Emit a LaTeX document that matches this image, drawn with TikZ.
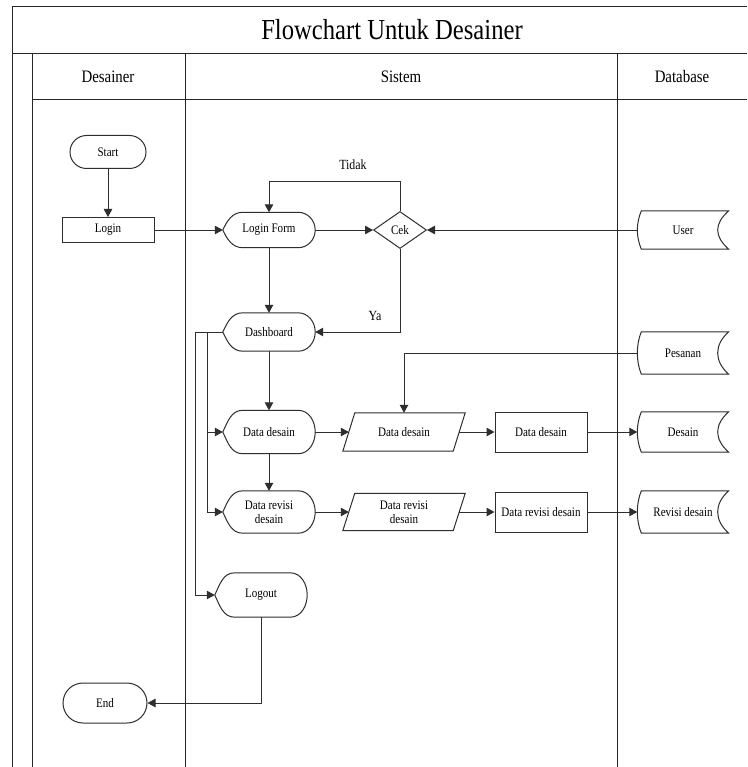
\documentclass[tikz,border=0pt]{standalone}
\usepackage{fontspec}
\setmainfont[FakeStretch=0.85]{Liberation Serif}
\usetikzlibrary{arrows.meta,shapes.misc,shapes.geometric}
\definecolor{lc}{HTML}{2E2E2E}
\newcommand\nodefont{\fontsize{13}{14}\selectfont}
% outline of a "display" symbol: pointed left end, flat top/bottom, round right end
\newcommand\dispshape[1]{\draw[ln] (#1.west) to[out=65,in=180] ([xshift=20pt]#1.north west)
  -- ([xshift=-17pt]#1.north east) to[out=0,in=90] (#1.east) to[out=-90,in=0] ([xshift=-17pt]#1.south east)
  -- ([xshift=20pt]#1.south west) to[out=180,in=-65] (#1.west);}
% outline of an input/output parallelogram
\newcommand\ioshape[1]{\draw[ln] ([xshift=12pt]#1.north west) -- (#1.north east)
  -- ([xshift=-12pt]#1.south east) -- (#1.south west) -- cycle;}
% outline of a "stored data" symbol
\newcommand\storeshape[1]{\draw[ln] ([xshift=4pt]#1.north west) -- (#1.north east)
  .. controls ([xshift=-14.7pt,yshift=-13pt]#1.north east) and ([xshift=-14.7pt,yshift=13pt]#1.south east) .. (#1.south east)
  -- ([xshift=4pt]#1.south west)
  .. controls ([xshift=-1.3pt,yshift=13pt]#1.south west) and ([xshift=-1.3pt,yshift=-13pt]#1.north west) .. ([xshift=4pt]#1.north west) -- cycle;}
\tikzset{
  ln/.style={draw=lc, line width=1pt},
  arr/.style={ln, -{Triangle[length=8pt,width=8.5pt]}},
  txt/.style={font=\nodefont, text=black, inner sep=0pt, align=center},
  term/.style={txt, rounded rectangle, draw=lc, line width=1pt},
  proc/.style={txt, rectangle, draw=lc, line width=1pt, minimum width=92pt},
  dispbox/.style={txt, rectangle, minimum width=92pt},
  iobox/.style={txt, rectangle, minimum width=122pt},
  storebox/.style={txt, rectangle, minimum width=91pt},
  lane/.style={draw=black!85, line width=1pt},
  head/.style={font=\fontsize{17.5}{19}\selectfont, text=black},
  lbl/.style={font=\fontsize{14}{16}\selectfont, text=black}
}
\begin{document}
\begin{tikzpicture}[x=1pt,y=-1pt]
\useasboundingbox (0,0) rectangle (747,767);
\fill[white] (0,0) rectangle (747,767);

% swimlane frame
\draw[lane] (12,767) -- (12,7) -- (747,7);
\draw[lane] (12,54) -- (747,54);
\draw[lane] (32,54) -- (32,767);
\draw[lane] (32,100) -- (747,100);
\draw[lane] (185,54) -- (185,767);
\draw[lane] (617,54) -- (617,767);
\node[font=\fontsize{29}{31}\selectfont, text=black] (title) at (392,30) {Flowchart Untuk Desainer};
\node[head] (hdes) at (108,77) {Desainer};
\node[head] (hsis) at (401,77) {Sistem};
\node[head] (hdb) at (682,77) {Database};

% Desainer lane
\node[term, minimum width=76pt, minimum height=33pt] (start) at (108,152) {Start};
\node[proc, minimum height=25pt] (login) at (108,230) {Login};
\node[term, minimum width=84pt, minimum height=40pt] (end) at (105,703) {End};

% Sistem lane
\node[dispbox, minimum height=35pt] (loginform) at (269,230) {Login Form};
\node[txt, diamond, draw=lc, line width=1pt, minimum width=53pt, minimum height=37pt] (cek) at (400,230) {Cek};
\node[dispbox, minimum height=38pt] (dash) at (269,332) {Dashboard};
\node[dispbox, minimum height=43pt] (ddisp) at (269,432) {Data desain};
\node[dispbox, minimum height=42pt] (rdisp) at (269,512) {Data revisi\\desain};
\node[dispbox, minimum height=44pt] (logout) at (261,595) {Logout};
\node[iobox, minimum height=38pt] (dio) at (404,432) {Data desain};
\node[iobox, minimum height=37pt] (rio) at (404,512) {Data revisi\\desain};
\node[proc, minimum height=40pt] (dproc) at (541,432) {Data desain};
\node[proc, minimum height=40pt] (rproc) at (541,512) {Data revisi desain};

% Database lane
\node[storebox, minimum height=38pt] (user) at (683,230) {User};
\node[storebox, minimum height=42pt] (pesanan) at (683,353) {Pesanan};
\node[storebox, minimum height=40pt] (desain) at (683,432) {Desain};
\node[storebox, minimum height=42pt] (revisi) at (683,512) {Revisi desain};

\dispshape{loginform}
\dispshape{dash}
\dispshape{ddisp}
\dispshape{rdisp}
\dispshape{logout}
\ioshape{dio}
\ioshape{rio}
\storeshape{user}
\storeshape{pesanan}
\storeshape{desain}
\storeshape{revisi}

% connectors
\draw[arr] (start) -- (login);
\draw[arr] (login) -- (loginform);
\draw[arr] (loginform) -- (cek);
\draw[arr] (user.west) -- (cek.east);
\draw[arr] (cek.north) -- ++(0,-29) -| (loginform.north);
\node[lbl] (tidak) at (353,165) {Tidak};
\draw[arr] (cek.south) |- (dash.east);
\node[lbl] (ya) at (375,316) {Ya};
\draw[arr] (loginform) -- (dash);
\draw[arr] (dash) -- (ddisp);
\draw[arr] (ddisp) -- (rdisp);

\coordinate (bo) at (195,332);
\coordinate (bi) at (207,332);
\draw[ln] (dash.west) -- (bo);
\draw[arr] (bi) |- (ddisp.west);
\draw[arr] (bi) |- (rdisp.west);
\draw[arr] (bo) |- (logout.west);

\draw[arr] (ddisp.east) -- ([xshift=6pt]dio.west);
\draw[arr] ([xshift=-6pt]dio.east) -- (dproc.west);
\draw[arr] (dproc.east) -- (desain.west);
\draw[arr] (rdisp.east) -- ([xshift=6pt]rio.west);
\draw[arr] ([xshift=-6pt]rio.east) -- (rproc.west);
\draw[arr] (rproc.east) -- (revisi.west);
\draw[arr] (pesanan.west) -| (dio.north);

\draw[arr] (logout.south) |- (end.east);
\end{tikzpicture}
\end{document}
